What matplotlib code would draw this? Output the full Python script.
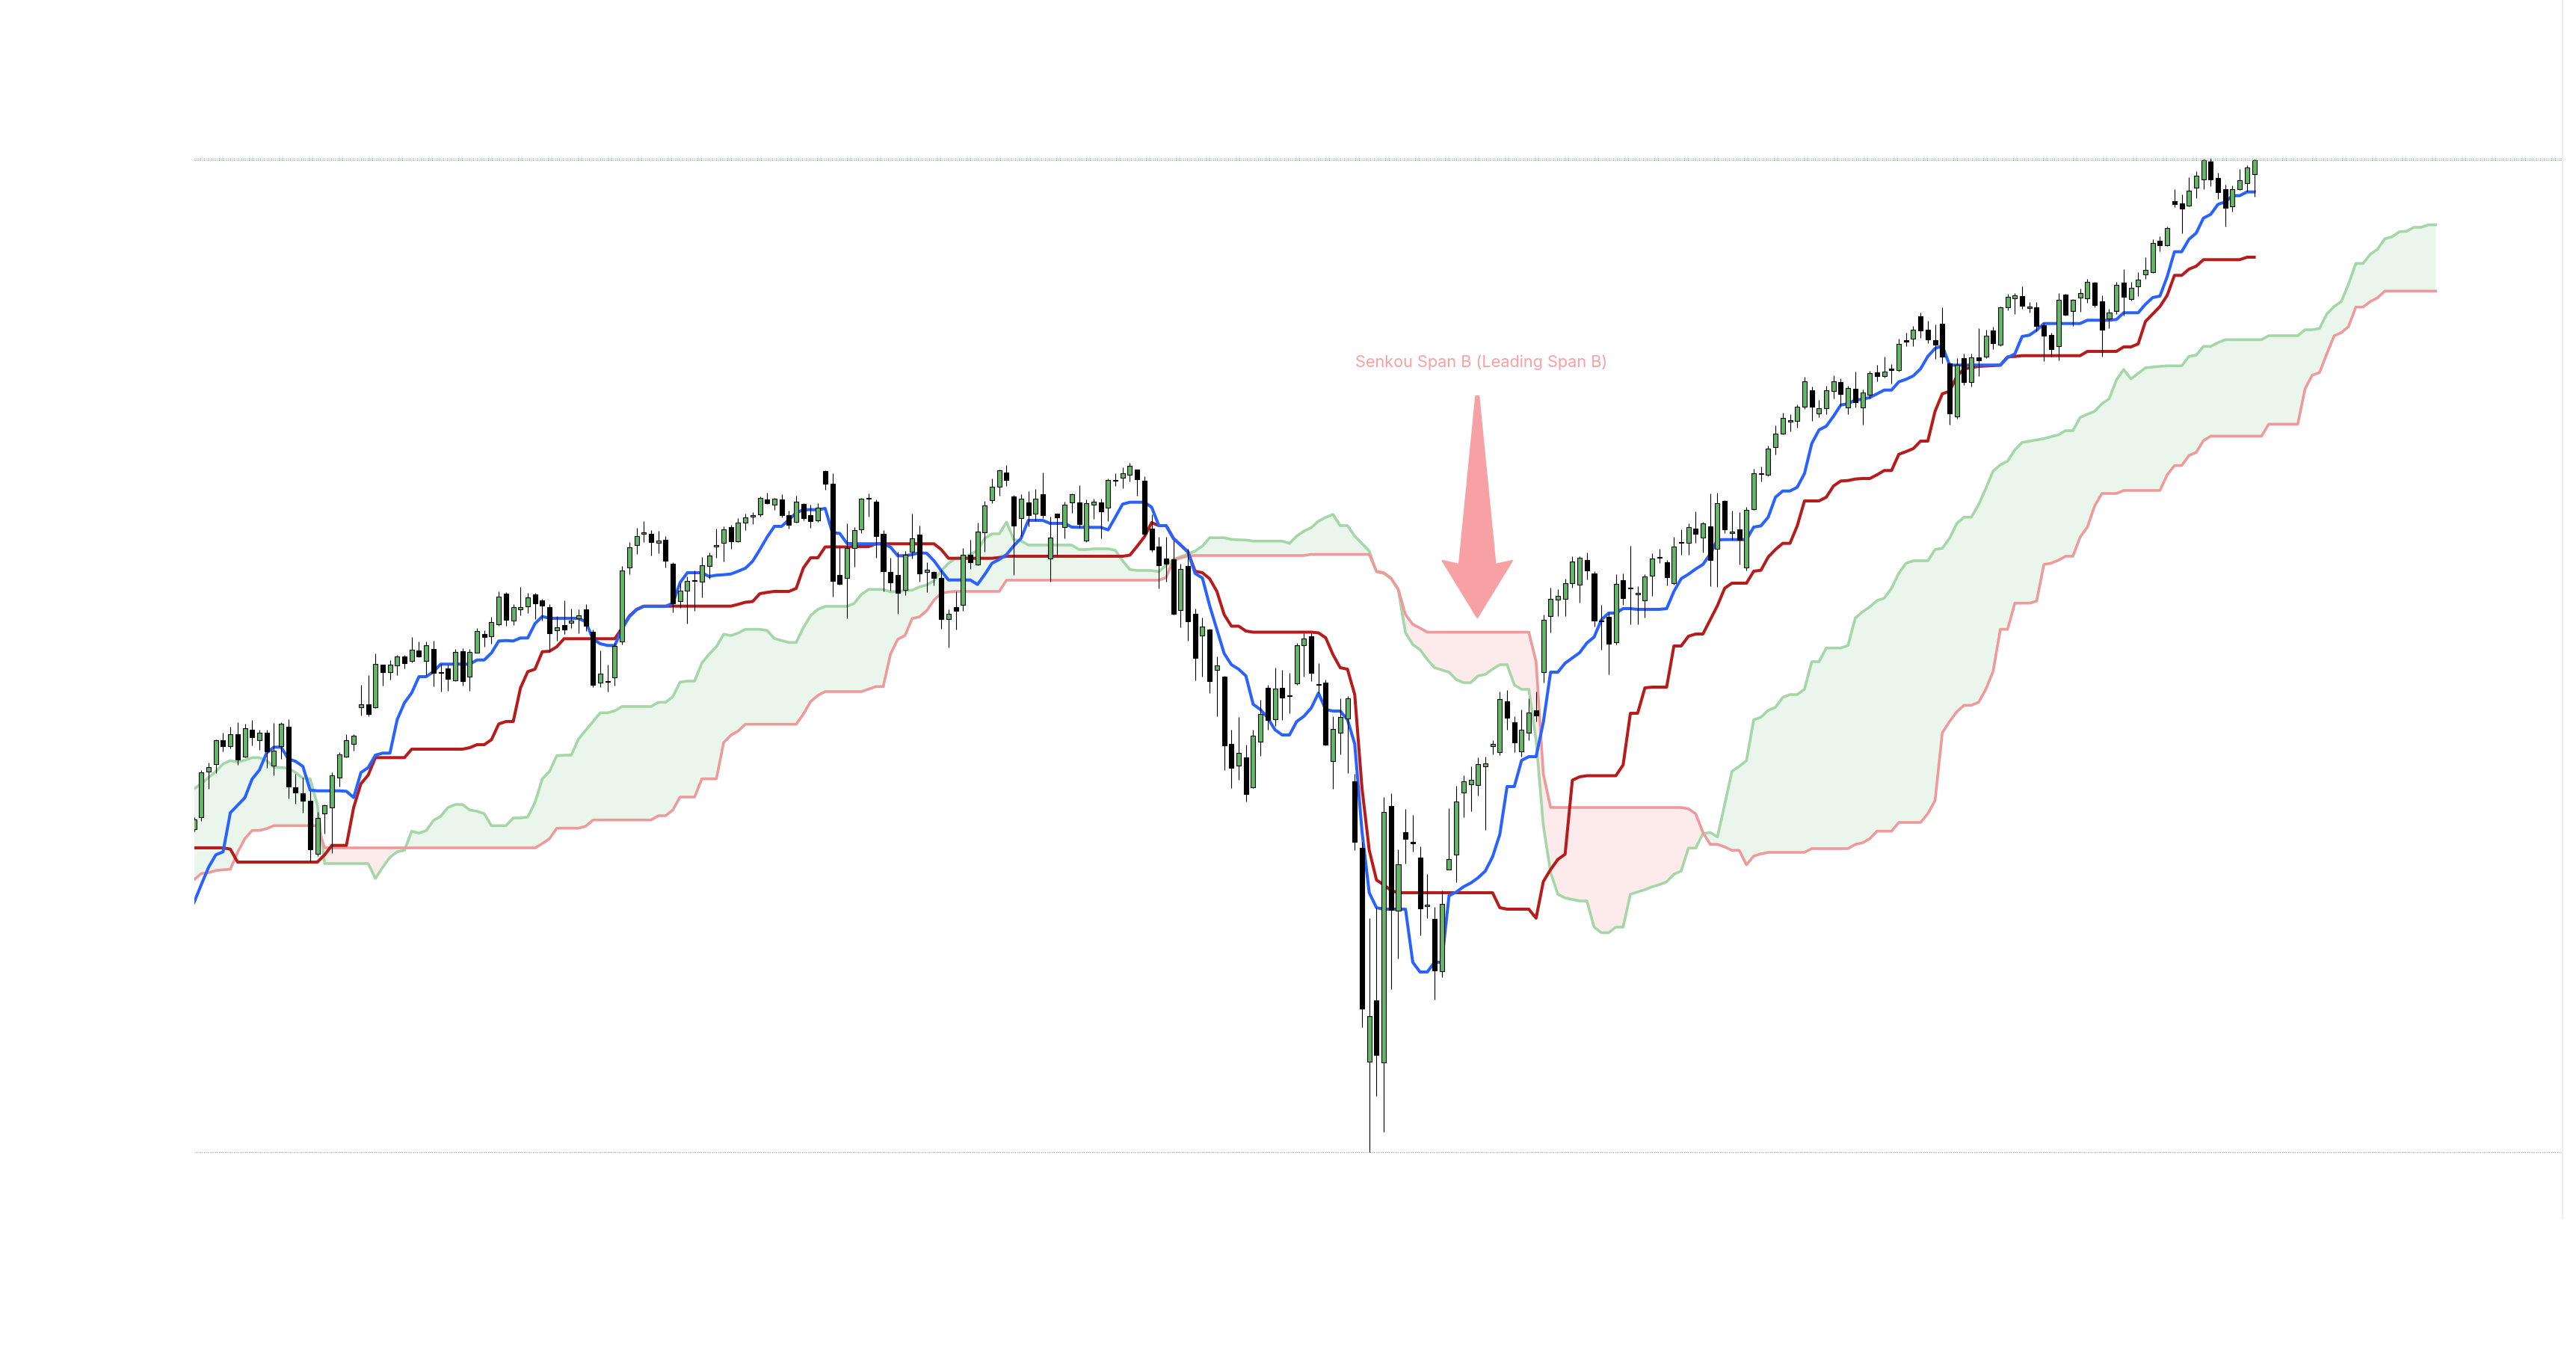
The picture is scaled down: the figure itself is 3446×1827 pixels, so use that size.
import numpy as np
import matplotlib
matplotlib.use("Agg")
import matplotlib.pyplot as plt
from matplotlib.patches import Polygon

# ---- candle data (one bar per session, values in price units) ----
opens = [
    52.1, 53.67, 59.77, 60.77, 63.97, 63.23, 64.77, 61.77, 65.37, 63.97,
    64.97, 60.57, 63.17, 65.77, 57.7, 56.87, 55.87, 48.77, 54.17, 54.97,
    58.97, 61.77, 63.47, 68.4, 68.83, 68.4, 74.07, 73.07, 74.0, 75.17,
    74.6, 75.97, 74.6, 76.17, 73.0, 73.6, 72.0, 75.9, 72.5, 75.73,
    78.17, 77.93, 79.5, 83.57, 80.0, 81.47, 81.87, 83.47, 82.67, 81.77,
    78.73, 79.4, 79.67, 80.33, 81.5, 78.5, 71.67, 71.77, 72.43, 77.17,
    87.07, 90.07, 91.57, 91.57, 90.37, 90.77, 87.6, 82.57, 84.0, 85.27,
    85.17, 87.27, 89.93, 90.43, 92.5, 90.57, 93.07, 93.93, 94.17, 96.2,
    95.5, 96.17, 94.07, 93.2, 95.6, 94.07, 93.4, 100.0, 98.27, 86.07,
    85.67, 89.67, 92.17, 96.3, 95.9, 91.57, 86.5, 86.07, 84.07, 89.17,
    91.47, 86.47, 86.5, 85.7, 80.17, 81.8, 82.07, 88.77, 87.47, 91.77,
    96.1, 97.87, 99.77, 96.6, 93.67, 95.77, 94.27, 96.87, 88.27, 94.27,
    92.47, 95.77, 95.77, 90.67, 95.47, 95.77, 95.07, 98.67, 99.1, 99.5,
    100.17, 98.67, 92.33, 89.93, 88.27, 88.17, 81.43, 87.33, 80.95, 78.0,
    78.8, 73.36, 72.55, 63.49, 60.59, 61.71, 57.73, 63.8, 70.99, 66.84,
    70.99, 69.88, 71.57, 76.71, 77.91, 71.39, 71.66, 61.17, 65.05, 66.88,
    58.48, 49.65, 21.01, 29.21, 20.87, 55.18, 41.17, 51.7, 50.21, 48.33,
    41.8, 40.06, 33.11, 46.66, 48.68, 56.99, 58.06, 57.96, 60.46, 63.18,
    62.42, 69.21, 66.39, 62.51, 64.96, 68.0, 73.09, 80.59, 82.82, 82.91,
    85.05, 84.79, 88.13, 86.3, 79.88, 80.46, 77.15, 85.41, 84.29, 83.49,
    82.69, 86.04, 88.36, 87.78, 84.96, 90.37, 90.41, 92.29, 91.08, 92.64,
    89.61, 96.0, 91.67, 92.17, 87.07, 94.93, 99.6, 99.5, 103.17, 105.0,
    106.57, 106.67, 108.6, 110.77, 107.67, 108.4, 110.67, 111.87, 108.5, 110.97,
    108.5, 110.17, 113.2, 112.73, 113.53, 113.47, 117.47, 117.67, 120.67, 118.9,
    117.5, 119.67, 114.4, 107.3, 115.07, 111.87, 115.2, 115.27, 118.8, 116.87,
    121.87, 123.07, 123.4, 121.77, 121.87, 119.5, 118.17, 116.67, 123.57, 121.4,
    123.17, 123.07, 125.17, 122.67, 120.43, 121.4, 125.17, 122.97, 124.67, 126.27,
    126.57, 130.77, 130.17, 136.1, 135.77, 135.47, 137.87, 139.0, 141.4, 139.17,
    137.67, 135.4, 137.67, 138.5, 139.67,
]
highs = [
    53.7, 60.0, 61.0, 64.07, 65.0, 65.8, 66.4, 66.2, 66.7, 65.4,
    65.4, 66.3, 66.4, 66.8, 59.47, 58.97, 57.17, 54.43, 55.4, 59.67,
    62.4, 64.77, 64.77, 71.4, 72.67, 75.6, 74.13, 74.73, 75.4, 75.4,
    77.77, 77.17, 77.17, 77.27, 74.17, 74.07, 76.17, 76.33, 76.17, 79.0,
    78.73, 80.5, 83.93, 83.83, 82.23, 84.5, 83.73, 83.73, 82.93, 82.17,
    80.6, 82.67, 81.6, 81.5, 82.17, 78.77, 76.0, 74.1, 77.0, 87.27,
    90.5, 92.4, 93.33, 92.1, 92.0, 91.33, 87.83, 85.0, 85.93, 86.67,
    88.5, 89.07, 92.27, 92.6, 92.83, 93.67, 94.33, 94.5, 96.6, 97.07,
    96.4, 96.93, 94.73, 96.73, 95.67, 95.5, 95.73, 100.07, 99.73, 89.83,
    93.0, 92.5, 96.4, 97.0, 96.17, 92.1, 88.4, 89.17, 89.27, 94.27,
    92.67, 87.77, 86.6, 86.83, 81.5, 83.9, 89.7, 90.8, 93.1, 95.97,
    99.0, 100.17, 100.77, 96.77, 96.9, 97.27, 97.6, 99.77, 93.9, 94.3,
    95.9, 97.0, 98.07, 96.17, 96.33, 96.33, 99.0, 99.67, 100.5, 101.1,
    100.23, 99.33, 94.17, 91.17, 91.17, 90.67, 87.6, 89.6, 81.57, 80.37,
    78.9, 75.23, 72.64, 65.41, 67.11, 63.4, 65.41, 69.43, 71.44, 73.67,
    73.45, 73.0, 77.02, 78.27, 78.27, 74.34, 72.11, 67.2, 69.65, 69.88,
    59.52, 50.42, 40.23, 41.62, 56.4, 56.92, 49.37, 54.83, 53.96, 49.79,
    46.07, 41.66, 43.88, 54.94, 57.86, 59.35, 60.5, 61.68, 61.84, 64.0,
    70.54, 70.68, 67.2, 68.09, 69.65, 70.54, 80.8, 84.38, 84.16, 85.59,
    88.63, 88.63, 89.07, 86.62, 82.15, 81.04, 86.17, 86.3, 90.05, 84.61,
    86.17, 88.98, 89.61, 88.09, 91.21, 92.2, 93.0, 94.65, 93.18, 97.02,
    97.11, 96.1, 94.67, 94.5, 95.17, 100.27, 100.6, 103.4, 106.07, 107.83,
    107.57, 108.9, 112.6, 111.33, 109.5, 111.4, 112.8, 112.4, 111.4, 113.27,
    110.87, 113.4, 114.23, 115.33, 114.33, 117.73, 118.5, 119.4, 121.17, 120.07,
    119.6, 121.9, 114.47, 115.07, 115.67, 115.73, 119.07, 118.93, 119.33, 122.0,
    123.67, 123.8, 124.67, 122.6, 122.6, 119.83, 118.5, 123.83, 123.67, 123.0,
    124.4, 125.67, 125.33, 123.5, 121.67, 125.27, 127.0, 125.27, 126.57, 128.6,
    131.0, 131.4, 132.67, 137.67, 137.0, 139.27, 140.1, 141.83, 141.83, 139.9,
    138.27, 138.17, 140.4, 140.9, 141.67,
]
lows = [
    51.8, 53.17, 57.5, 59.57, 62.5, 62.93, 60.73, 61.67, 63.33, 62.73,
    60.33, 59.33, 61.5, 56.23, 55.53, 54.33, 47.77, 48.53, 51.53, 48.93,
    57.83, 61.67, 62.63, 67.33, 67.17, 68.27, 71.27, 72.07, 72.67, 73.6,
    74.4, 75.1, 72.73, 71.17, 70.5, 70.6, 71.93, 71.33, 70.6, 75.67,
    76.5, 76.93, 79.33, 79.27, 79.4, 80.73, 81.0, 80.23, 80.0, 75.77,
    77.33, 78.23, 79.0, 78.33, 78.57, 71.1, 71.1, 70.5, 71.33, 76.83,
    86.23, 88.93, 90.5, 88.73, 89.0, 87.1, 81.1, 81.73, 79.6, 81.33,
    83.07, 85.57, 88.43, 87.93, 89.6, 90.5, 92.1, 92.93, 93.93, 95.6,
    94.83, 93.77, 92.33, 93.13, 93.4, 92.43, 93.17, 97.5, 83.17, 84.83,
    80.33, 87.23, 91.67, 93.93, 88.43, 83.9, 84.0, 80.93, 83.43, 88.27,
    85.17, 83.83, 84.73, 78.93, 76.43, 78.77, 81.27, 86.93, 87.4, 89.23,
    95.67, 96.67, 98.0, 86.07, 91.27, 92.57, 93.4, 93.67, 85.17, 88.73,
    91.0, 94.4, 92.4, 90.5, 93.6, 91.0, 93.33, 98.0, 97.73, 98.57,
    96.73, 91.27, 89.23, 84.33, 85.17, 80.83, 79.1, 77.33, 71.97, 72.55,
    70.32, 67.2, 60.05, 57.6, 58.71, 55.81, 57.6, 61.93, 65.41, 65.86,
    66.75, 67.64, 71.44, 72.55, 71.88, 70.32, 63.31, 57.46, 62.06, 59.61,
    49.27, 25.63, 8.95, 16.42, 11.63, 30.67, 34.78, 47.53, 49.1, 37.87,
    40.23, 29.35, 32.34, 46.66, 45.03, 53.68, 54.48, 56.57, 52.05, 62.13,
    62.03, 65.41, 62.37, 61.78, 63.98, 66.53, 71.66, 78.36, 80.59, 80.59,
    84.38, 82.38, 85.5, 79.25, 76.13, 72.78, 76.79, 82.15, 79.47, 79.47,
    80.37, 83.27, 87.73, 84.7, 84.83, 88.85, 88.85, 90.41, 89.07, 84.61,
    84.52, 91.73, 90.83, 87.5, 86.73, 94.83, 98.6, 99.33, 102.23, 104.93,
    105.33, 105.83, 108.33, 106.67, 107.23, 107.57, 109.67, 108.73, 107.57, 108.5,
    106.23, 109.67, 112.0, 112.5, 111.67, 113.33, 116.67, 116.73, 117.83, 117.07,
    115.0, 114.4, 106.17, 106.97, 111.5, 111.27, 112.73, 115.07, 116.33, 116.67,
    121.5, 121.0, 121.67, 121.17, 118.67, 114.67, 115.27, 114.77, 120.8, 119.4,
    121.33, 122.5, 121.9, 115.33, 119.07, 121.0, 120.83, 122.83, 123.4, 125.73,
    126.5, 129.43, 130.07, 135.33, 131.83, 135.4, 136.53, 137.67, 138.13, 136.43,
    132.73, 134.73, 137.6, 137.4, 136.67,
]
closes = [
    53.4, 59.67, 60.37, 63.97, 63.23, 64.77, 61.43, 65.57, 64.43, 64.97,
    62.53, 62.57, 66.17, 57.83, 57.03, 55.87, 49.43, 53.57, 55.27, 59.27,
    62.07, 63.97, 64.57, 68.83, 67.5, 74.17, 73.07, 74.07, 75.17, 74.27,
    76.07, 75.17, 76.67, 73.0, 72.97, 72.23, 75.77, 71.9, 75.77, 78.57,
    77.77, 79.83, 83.17, 80.07, 81.77, 81.77, 83.07, 82.33, 82.0, 78.33,
    79.07, 78.83, 80.0, 80.67, 79.27, 71.43, 72.9, 71.7, 76.6, 86.67,
    89.77, 91.27, 91.77, 90.47, 90.67, 88.03, 82.33, 84.0, 85.27, 85.3,
    87.43, 88.67, 89.97, 92.17, 90.57, 93.07, 93.77, 93.97, 96.4, 95.67,
    96.33, 94.07, 92.77, 95.93, 93.73, 93.33, 95.07, 98.33, 85.33, 84.93,
    89.67, 92.07, 96.27, 96.23, 91.33, 86.63, 85.07, 83.73, 88.77, 90.97,
    86.33, 86.77, 85.73, 80.23, 80.87, 81.33, 88.77, 87.83, 91.87, 95.37,
    97.87, 100.07, 98.77, 92.73, 96.27, 94.13, 96.33, 94.13, 91.07, 93.83,
    95.47, 96.87, 92.93, 95.67, 95.87, 94.57, 98.83, 98.7, 99.67, 100.73,
    98.93, 91.57, 89.5, 87.43, 87.57, 80.93, 86.93, 79.93, 75.0, 79.25,
    71.88, 74.03, 63.31, 60.28, 62.29, 56.84, 64.65, 67.51, 66.66, 70.9,
    69.65, 70.05, 76.75, 77.6, 73.0, 71.53, 63.4, 65.54, 67.11, 69.65,
    50.42, 28.07, 27.13, 21.88, 54.38, 41.28, 47.43, 50.83, 50.07, 41.55,
    42.04, 33.18, 42.15, 48.12, 55.77, 58.48, 58.66, 60.78, 60.95, 63.49,
    69.52, 66.97, 63.71, 65.41, 67.73, 67.29, 80.14, 82.91, 83.27, 84.96,
    87.87, 88.36, 86.75, 80.05, 79.79, 76.88, 84.92, 82.96, 84.21, 83.71,
    85.86, 88.27, 88.27, 85.81, 89.92, 90.28, 92.55, 91.62, 92.96, 88.09,
    95.68, 92.17, 91.9, 90.77, 94.83, 99.67, 99.63, 103.0, 105.0, 107.07,
    106.77, 108.57, 111.97, 108.57, 108.4, 110.77, 111.97, 110.27, 111.07, 109.17,
    110.47, 113.07, 112.67, 113.33, 113.47, 116.97, 117.27, 118.87, 118.77, 117.57,
    116.93, 115.33, 107.73, 114.17, 111.93, 115.17, 114.83, 118.07, 117.13, 121.87,
    123.27, 123.47, 122.13, 122.0, 119.43, 118.07, 116.33, 122.93, 120.93, 122.87,
    123.77, 125.27, 122.17, 118.93, 121.17, 124.9, 123.33, 124.47, 125.57, 126.9,
    130.5, 130.17, 132.5, 135.67, 135.07, 137.47, 139.47, 141.57, 139.0, 137.33,
    135.17, 137.67, 138.9, 140.57, 141.57,
]

# ---- Ichimoku lines as drawn on the chart ----
tenkan = [
    42.3, 44.7, 47.0, 48.67, 49.07, 54.3, 55.3, 56.3, 58.8, 60.0,
    62.3, 63.07, 63.07, 61.5, 61.17, 60.5, 57.33, 57.23, 57.23, 57.23,
    57.23, 57.17, 56.33, 59.67, 60.33, 62.0, 62.27, 62.27, 66.75, 69.0,
    70.33, 72.5, 72.5, 73.17, 74.17, 74.17, 74.17, 74.17, 74.17, 74.73,
    74.73, 75.67, 77.27, 77.33, 77.27, 77.67, 77.67, 79.6, 80.55, 80.3,
    80.3, 80.3, 80.3, 80.3, 79.83, 77.5, 76.9, 76.67, 76.67, 78.9,
    80.5, 81.45, 81.9, 81.9, 81.9, 81.9, 82.33, 85.08, 86.4, 86.4,
    86.4, 85.9, 86.07, 86.13, 86.23, 86.6, 87.0, 87.93, 89.5, 91.17,
    92.6, 92.6, 93.5, 94.4, 94.83, 94.83, 94.83, 95.0, 91.73, 91.67,
    90.33, 90.27, 90.27, 90.27, 90.27, 90.27, 89.83, 88.67, 88.67, 88.83,
    89.07, 89.0, 88.0, 86.67, 85.43, 85.43, 85.43, 85.43, 84.83, 86.17,
    87.67, 88.17, 88.83, 90.0, 91.0, 93.4, 93.4, 93.4, 93.0, 93.0,
    93.0, 92.5, 92.47, 92.47, 92.47, 92.47, 92.13, 93.83, 95.57, 95.83,
    95.83, 95.83, 95.17, 92.7, 92.7, 91.0, 90.1, 89.2, 86.3, 85.7,
    82.0, 78.8, 75.6, 74.1, 73.5, 72.6, 68.8, 68.1, 67.0, 65.4,
    64.7, 64.7, 66.5, 67.2, 68.3, 70.3, 68.1, 67.9, 67.9, 66.75,
    63.5, 51.8, 43.6, 41.6, 41.4, 41.4, 41.4, 41.4, 34.3, 33.0,
    33.0, 34.3, 34.3, 43.2, 43.7, 44.4, 44.9, 45.6, 46.5, 48.4,
    51.4, 57.8, 57.8, 61.3, 61.8, 61.8, 66.4, 73.1, 73.1, 74.3,
    75.0, 75.7, 77.0, 77.8, 80.1, 81.0, 81.0, 81.6, 81.6, 81.5,
    81.5, 81.5, 81.5, 81.6, 83.9, 85.6, 86.2, 86.9, 87.5, 88.9,
    90.8, 90.83, 90.83, 90.83, 90.83, 92.5, 92.67, 93.83, 96.5, 97.33,
    97.33, 97.83, 99.67, 103.67, 105.5, 106.0, 107.33, 108.83, 109.0, 109.5,
    109.6, 109.83, 110.33, 110.83, 110.83, 111.93, 112.27, 112.73, 113.67, 115.33,
    116.4, 116.73, 114.17, 114.17, 114.17, 114.17, 114.17, 114.17, 114.17, 114.17,
    115.17, 115.67, 118.0, 118.17, 118.83, 119.73, 119.73, 119.73, 119.73, 119.73,
    119.73, 120.17, 120.17, 120.17, 120.17, 120.27, 121.17, 121.17, 121.17, 122.3,
    123.2, 123.4, 126.0, 129.33, 129.33, 131.0, 131.83, 133.83, 134.33, 135.67,
    136.0, 136.83, 136.83, 137.33, 137.33,
]
kijun = [
    49.6, 49.6, 49.6, 49.6, 49.6, 49.43, 47.7, 47.7, 47.7, 47.7,
    47.7, 47.7, 47.7, 47.7, 47.7, 47.7, 47.7, 47.7, 48.67, 49.93,
    49.93, 49.93, 55.0, 58.17, 59.33, 61.67, 61.67, 61.67, 61.67, 61.67,
    62.8, 62.8, 62.8, 62.8, 62.8, 62.8, 62.8, 62.8, 63.0, 63.4,
    63.4, 64.07, 66.17, 66.5, 66.5, 71.0, 73.17, 73.5, 75.83, 75.9,
    76.5, 77.57, 77.57, 77.57, 77.57, 77.57, 77.57, 77.57, 77.57, 79.0,
    80.6, 81.5, 81.93, 81.93, 81.93, 81.93, 81.93, 81.93, 81.93, 81.93,
    81.93, 81.93, 81.93, 81.93, 81.93, 82.17, 82.45, 82.55, 83.6, 83.77,
    83.9, 83.9, 83.9, 84.3, 87.05, 88.4, 88.4, 89.85, 89.85, 89.85,
    89.85, 89.9, 89.9, 89.9, 90.27, 90.27, 90.27, 90.27, 90.27, 90.27,
    90.27, 90.27, 90.27, 89.5, 88.33, 88.33, 88.33, 88.33, 88.33, 88.33,
    88.33, 88.43, 88.6, 88.6, 88.6, 88.6, 88.6, 88.6, 88.6, 88.6,
    88.6, 88.6, 88.6, 88.6, 88.6, 88.6, 88.6, 88.6, 88.6, 88.75,
    89.93, 91.2, 93.1, 92.7, 92.7, 91.0, 90.1, 89.2, 86.6, 86.4,
    85.6, 83.9, 80.8, 79.25, 79.25, 78.6, 78.45, 78.45, 78.45, 78.45,
    78.45, 78.45, 78.45, 78.45, 78.45, 78.36, 77.7, 75.45, 73.7, 73.5,
    70.1, 57.6, 49.3, 45.3, 44.66, 43.9, 43.6, 43.6, 43.6, 43.6,
    43.6, 43.6, 43.6, 43.6, 43.6, 43.6, 43.6, 43.6, 43.6, 43.6,
    41.6, 41.4, 41.4, 41.4, 41.4, 40.2, 45.1, 46.7, 48.05, 48.75,
    58.65, 59.1, 59.25, 59.25, 59.25, 59.25, 59.25, 60.7, 67.6, 67.6,
    71.0, 71.1, 71.1, 71.1, 76.6, 76.6, 77.9, 78.2, 78.2, 80.1,
    82.0, 84.33, 85.0, 85.0, 85.0, 86.6, 86.73, 88.5, 89.5, 90.33,
    90.33, 92.67, 96.0, 96.0, 96.0, 96.5, 98.0, 98.67, 98.73, 98.93,
    99.0, 99.0, 99.5, 100.07, 100.07, 102.23, 102.6, 103.0, 104.0, 104.0,
    108.0, 110.33, 110.67, 112.67, 113.67, 113.83, 114.0, 114.05, 114.1, 114.17,
    115.27, 115.33, 115.43, 115.43, 115.43, 115.43, 115.43, 115.43, 115.43, 115.43,
    115.43, 116.0, 116.0, 116.0, 116.0, 116.0, 116.6, 116.6, 117.0, 120.0,
    121.0, 122.0, 123.5, 126.17, 126.17, 127.0, 127.4, 128.27, 128.27, 128.27,
    128.27, 128.27, 128.27, 128.6, 128.6,
]
senkou_a = [
    57.5, 58.17, 59.0, 59.83, 60.83, 61.27, 61.07, 61.33, 61.67, 61.67,
    61.27, 60.4, 60.33, 60.27, 59.67, 58.93, 58.83, 55.33, 47.5, 47.5,
    47.5, 47.5, 47.5, 47.5, 47.5, 45.5, 47.0, 48.33, 49.07, 49.27,
    51.83, 51.57, 51.9, 53.27, 53.83, 55.0, 55.4, 55.4, 54.67, 54.5,
    54.17, 52.57, 52.57, 52.57, 53.6, 53.6, 53.73, 55.67, 58.83, 59.83,
    61.93, 62.0, 62.0, 64.17, 65.33, 66.5, 67.67, 67.67, 67.93, 68.5,
    68.5, 68.5, 68.5, 68.5, 69.07, 69.07, 69.83, 71.77, 71.9, 71.9,
    74.33, 75.5, 76.5, 78.17, 78.0, 78.33, 78.83, 78.83, 78.83, 78.67,
    77.6, 77.33, 77.07, 77.07, 79.07, 80.67, 81.5, 81.9, 81.9, 81.9,
    81.9, 82.3, 83.5, 84.17, 84.17, 84.17, 83.83, 83.93, 84.0, 84.07,
    84.5, 84.77, 85.33, 86.67, 87.67, 88.33, 88.4, 88.83, 89.4, 91.0,
    91.6, 91.6, 93.17, 90.83, 90.67, 90.1, 90.1, 90.1, 90.1, 90.1,
    90.1, 90.1, 89.5, 89.5, 89.6, 89.6, 89.6, 89.4, 88.0, 86.83,
    86.7, 86.7, 86.7, 86.55, 87.4, 88.17, 88.55, 88.9, 89.3, 89.96,
    91.08, 91.08, 91.08, 90.86, 90.8, 90.77, 90.63, 90.63, 90.63, 90.63,
    90.63, 90.32, 91.3, 91.97, 92.42, 93.3, 93.8, 94.2, 92.7, 92.7,
    91.3, 90.3, 89.3, 86.5, 86.3, 85.6, 84.1, 78.36, 76.8, 76.1,
    74.8, 73.7, 73.4, 73.1, 72.1, 71.7, 71.7, 72.6, 72.8, 73.5,
    74.1, 74.1, 71.4, 70.8, 70.8, 64.0, 52.6, 46.3, 43.4, 42.9,
    42.7, 42.5, 42.5, 39.0, 38.25, 38.25, 39.0, 39.0, 43.4, 43.7,
    44.0, 44.4, 44.67, 45.07, 46.07, 46.5, 49.57, 49.57, 51.5, 51.67,
    51.07, 55.4, 59.83, 60.5, 61.27, 66.73, 67.07, 68.0, 68.4, 69.73,
    70.1, 70.1, 70.83, 74.5, 74.5, 76.33, 76.33, 76.33, 76.67, 80.33,
    81.17, 81.83, 82.67, 83.0, 84.33, 86.33, 87.67, 88.0, 88.0, 88.0,
    89.5, 89.67, 91.0, 93.0, 93.83, 93.83, 95.5, 97.67, 100.0, 100.83,
    101.33, 102.83, 103.83, 104.0, 104.17, 104.33, 104.6, 104.83, 105.4, 105.4,
    107.17, 107.6, 108.0, 109.0, 109.67, 112.17, 113.6, 112.33, 113.07, 113.8,
    113.9, 114.0, 114.07, 114.07, 114.07, 115.33, 115.5, 116.67, 116.67, 117.17,
    117.57, 117.57, 117.57, 117.57, 117.57, 117.57, 118.1, 118.1, 118.1, 118.1,
    118.1, 118.9, 118.9, 119.07, 121.0, 122.0, 122.67, 125.0, 127.77, 127.77,
    129.0, 129.67, 131.07, 131.33, 132.0, 132.07, 132.6, 132.6, 132.93, 132.93,
]
senkou_b = [
    45.33, 46.17, 46.27, 46.57, 46.67, 46.73, 49.0, 50.83, 51.93, 51.93,
    52.17, 52.57, 52.57, 52.57, 52.57, 52.57, 52.57, 52.57, 49.6, 49.6,
    49.6, 49.6, 49.6, 49.6, 49.6, 49.6, 49.6, 49.6, 49.6, 49.6,
    49.6, 49.6, 49.6, 49.6, 49.6, 49.6, 49.6, 49.6, 49.6, 49.6,
    49.6, 49.6, 49.6, 49.6, 49.6, 49.6, 49.6, 49.6, 50.17, 50.83,
    52.23, 52.23, 52.23, 52.23, 52.5, 53.33, 53.33, 53.33, 53.33, 53.33,
    53.33, 53.33, 53.33, 53.33, 53.9, 53.9, 54.67, 56.4, 56.4, 56.4,
    58.83, 58.83, 58.83, 63.67, 64.67, 65.23, 66.13, 66.13, 66.13, 66.13,
    66.13, 66.13, 66.13, 66.13, 67.5, 69.17, 70.0, 70.5, 70.5, 70.5,
    70.5, 70.5, 70.5, 70.83, 71.17, 71.17, 75.5, 77.5, 78.0, 80.27,
    80.5, 81.33, 82.73, 83.67, 83.83, 83.9, 83.9, 83.9, 83.9, 83.9,
    83.9, 83.9, 85.4, 85.4, 85.4, 85.4, 85.4, 85.4, 85.4, 85.4,
    85.4, 85.4, 85.4, 85.4, 85.4, 85.4, 85.4, 85.4, 85.4, 85.4,
    85.4, 85.4, 85.4, 85.4, 85.75, 88.1, 88.37, 88.65, 88.7, 88.7,
    88.7, 88.7, 88.7, 88.7, 88.7, 88.7, 88.7, 88.7, 88.7, 88.7,
    88.7, 88.7, 88.7, 88.7, 88.85, 88.85, 88.85, 88.85, 88.85, 88.85,
    88.85, 88.85, 88.85, 86.6, 86.4, 85.7, 84.2, 80.8, 79.5, 79.0,
    78.45, 78.45, 78.45, 78.45, 78.45, 78.45, 78.45, 78.45, 78.45, 78.45,
    78.45, 78.45, 78.45, 78.45, 78.45, 74.5, 59.5, 55.0, 55.0, 55.0,
    55.0, 55.0, 55.0, 55.0, 55.0, 55.0, 55.0, 55.0, 55.0, 55.0,
    55.0, 55.0, 55.0, 55.0, 55.0, 55.0, 54.83, 54.17, 51.67, 50.07,
    50.07, 49.73, 49.27, 49.27, 47.33, 48.5, 48.8, 49.0, 49.0, 49.0,
    49.0, 49.0, 49.0, 49.5, 49.5, 49.5, 49.5, 49.5, 49.5, 50.07,
    50.27, 50.83, 51.83, 51.83, 51.83, 53.0, 53.0, 53.0, 53.0, 54.17,
    55.93, 65.0, 66.5, 67.8, 68.67, 68.67, 69.07, 70.8, 73.2, 78.83,
    78.83, 82.33, 82.33, 82.33, 82.6, 87.5, 87.67, 88.07, 88.6, 88.6,
    91.17, 92.5, 95.33, 97.0, 97.0, 97.0, 97.4, 97.4, 97.4, 97.4,
    97.4, 97.4, 99.5, 100.73, 100.73, 102.07, 102.5, 104.07, 104.67, 104.67,
    104.67, 104.67, 104.67, 104.67, 104.67, 104.67, 106.27, 106.27, 106.27, 106.27,
    106.27, 111.0, 112.83, 113.17, 115.67, 118.07, 118.5, 119.33, 121.93, 121.93,
    122.67, 123.17, 124.07, 124.07, 124.07, 124.07, 124.07, 124.07, 124.07, 124.07,
]

ANNOTATION = "Senkou Span B (Leading Span B)"

# colours
UP = "#63b866"
DOWN = "#000000"
TENKAN_C = "#2962ff"
KIJUN_C = "#b71c1c"
SPAN_A_C = "#a5d6a7"
SPAN_B_C = "#ef9a9a"
FILL_UP = "#eaf5eb"
FILL_DN = "#fdeaea"
ARROW_C = "#f7a1a4"

o = np.array(opens)
h = np.array(highs)
l = np.array(lows)
c = np.array(closes)
x = np.arange(len(o))
xs = np.arange(len(senkou_a))
sa = np.array(senkou_a)
sb = np.array(senkou_b)

fig = plt.figure(figsize=(17.23, 9.135), dpi=200)
ax = fig.add_axes([260 / 3446, 197 / 1827, 3168 / 3446, 1630 / 1827])
ax.set_xlim(0.04, 326.5)
ax.set_ylim(0, 163)

# cloud
ax.fill_between(xs, sa, sb, where=sa >= sb, interpolate=True, color=FILL_UP, lw=0, zorder=1)
ax.fill_between(xs, sa, sb, where=sa < sb, interpolate=True, color=FILL_DN, lw=0, zorder=1)
ax.plot(xs, sa, color=SPAN_A_C, lw=1.3, zorder=2, solid_joinstyle="round")
ax.plot(xs, sb, color=SPAN_B_C, lw=1.3, zorder=2, solid_joinstyle="round")

# conversion / base lines
ax.plot(x, kijun, color=KIJUN_C, lw=1.45, zorder=3, solid_joinstyle="round")
ax.plot(x, tenkan, color=TENKAN_C, lw=1.45, zorder=3, solid_joinstyle="round")

# candles
up = c >= o
ax.vlines(x, l, h, color="black", lw=0.4, zorder=4)
body = np.where(np.abs(c - o) < 0.15, 0.15, c - o)
ax.bar(x, body, bottom=o, width=0.62, color=np.where(up, UP, DOWN),
       edgecolor="black", linewidth=0.4, zorder=5)

# price lines: highest high, last close, lowest low
dots = (0, (0.8, 1.2))
ax.axhline(h.max(), color="#a8a8a8", lw=0.45, ls=dots, zorder=6)
ax.axhline(c[-1], color="#66bb6a", lw=0.45, ls=dots, zorder=6)
ax.axhline(l.min(), color="#a8a8a8", lw=0.45, ls=dots, zorder=6)

# annotation arrow pointing at Senkou Span B
ax_x, a_top, a_base, a_tip = 176.9, 110.0, 88.0, 80.4
arrow = Polygon([
    (ax_x - 0.2, a_top), (ax_x - 2.5, a_base - 0.5), (ax_x - 4.8, a_base),
    (ax_x, a_tip),
    (ax_x + 4.8, a_base), (ax_x + 2.5, a_base - 0.5), (ax_x + 0.2, a_top),
], closed=True, facecolor=ARROW_C, edgecolor=ARROW_C, lw=0.8,
    joinstyle="round", zorder=7)
ax.add_patch(arrow)
ax.text(177.5, 114.5, ANNOTATION, ha="center", va="center", color=ARROW_C,
        fontsize=7.8, family=["Inter", "DejaVu Sans"], zorder=7)

for side in ["left", "top", "bottom"]:
    ax.spines[side].set_visible(False)
ax.spines["right"].set_color("#efefef")
ax.spines["right"].set_linewidth(0.75)
ax.set_xticks([])
ax.set_yticks([])

fig.savefig("out.png", dpi=200, facecolor="white")
